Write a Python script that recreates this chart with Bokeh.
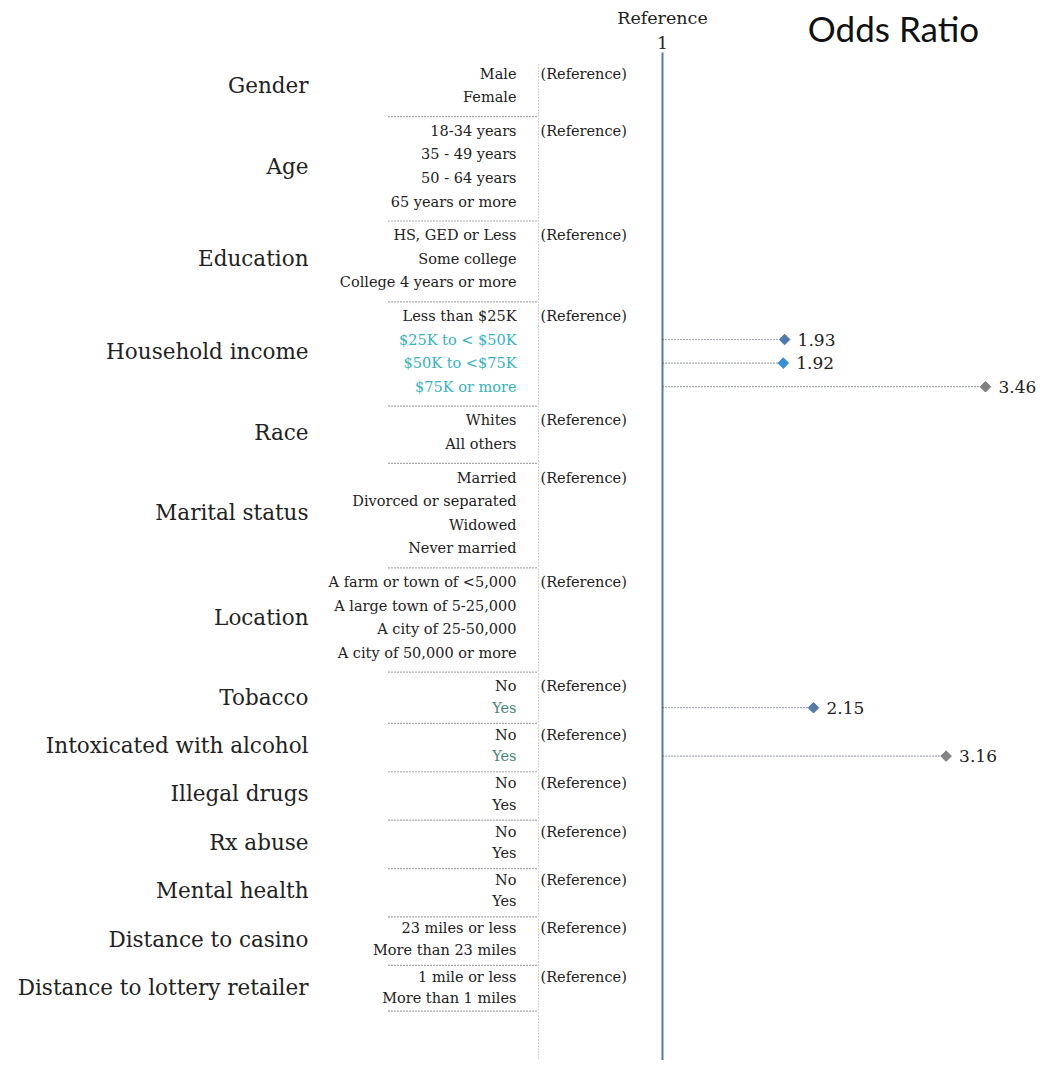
import math
from bokeh.plotting import figure
from bokeh.models import Range1d, ColumnDataSource
from bokeh.core.properties import value
from bokeh.embed import file_html
from bokeh.resources import INLINE

# ---------------- data ----------------
groups = ["Gender", "Age", "Education", "Household income", "Race",
          "Marital status", "Location", "Tobacco", "Intoxicated with alcohol",
          "Illegal drugs", "Rx abuse", "Mental health", "Distance to casino",
          "Distance to lottery retailer"]
levels = [
    ["Male", "Female"],
    ["18-34 years", "35 - 49 years", "50 - 64 years", "65 years or more"],
    ["HS, GED or Less", "Some college", "College 4 years or more"],
    ["Less than $25K", "$25K to < $50K", "$50K to <$75K", "$75K or more"],
    ["Whites", "All others"],
    ["Married", "Divorced or separated", "Widowed", "Never married"],
    ["A farm or town of <5,000", "A large town of 5-25,000",
     "A city of 25-50,000", "A city of 50,000 or more"],
    ["No", "Yes"], ["No", "Yes"], ["No", "Yes"], ["No", "Yes"], ["No", "Yes"],
    ["23 miles or less", "More than 23 miles"],
    ["1 mile or less", "More than 1 miles"],
]
reference_label = "(Reference)"
n_demographic = 7

# significant odds ratios
or_group = ["Household income", "Household income", "Household income",
            "Tobacco", "Intoxicated with alcohol"]
or_level = ["$25K to < $50K", "$50K to <$75K", "$75K or more", "Yes", "Yes"]
or_value = [1.93, 1.92, 3.46, 2.15, 3.16]
or_color = ["#4f78ad", "#3a8fdc", "#7f7f7f", "#5579a8", "#858585"]
label_color = {"Household income": "#33b3c0", "Tobacco": "#3f8a7c",
               "Intoxicated with alcohol": "#3f8a7c"}

# ---------------- layout ----------------
W, H = 1043, 1060
REF_PX = 662.0          # x of odds ratio = 1
MAX_PX = 985.0          # x of largest odds ratio
K = (MAX_PX - REF_PX) / (max(or_value) - 1.0)
X0 = 1.0 - REF_PX / K
X1 = X0 + W / K


def px(xpix):
    return X0 + xpix / K


SERIF = value("DejaVu Serif")

row_y, row_txt, row_grp = [], [], []
grp_y, sep_y = [], []
y = 73.0
for gi, (g, lv) in enumerate(zip(groups, levels)):
    demo = gi < n_demographic
    step = 23.6 if demo else 21.4
    if gi > 0:
        y += 33.6 if gi <= n_demographic else 27.0
    ys = []
    for li, l in enumerate(lv):
        if li > 0:
            y += step
        ys.append(y)
        row_y.append(y)
        row_txt.append(l)
        row_grp.append(g)
    grp_y.append(sum(ys) / len(ys))
    nxt_gap = 33.6 if gi < n_demographic else 27.0
    sep_y.append(y + (0.58 * nxt_gap if gi < len(groups) - 1 else 13))

first_rows = [row_y[row_grp.index(g)] for g in groups]

p = figure(width=W, height=H, x_range=Range1d(X0, X1), y_range=Range1d(H, 0),
           output_backend="svg", toolbar_location=None, min_border=0,
           background_fill_color="white", border_fill_color="white")
p.axis.visible = False
p.grid.visible = False
p.outline_line_color = None

# title
p.text(x=[px(893)], y=[27], text=["Odds Ratio"], text_font=value("Lato"),
       text_font_size="35px", text_align="center", text_baseline="middle",
       text_color="#111111")
# reference header
p.text(x=[1.0, 1.0], y=[17, 42], text=["Reference", "1"], text_font=SERIF,
       text_font_size="17.5px", text_align="center", text_baseline="middle",
       text_color="#222222")

# vertical separators
p.segment(x0=[px(538)], y0=[64], x1=[px(538)], y1=[H], line_color="#a8a8a8",
          line_width=1, line_dash="1 2")
p.segment(x0=[1.0], y0=[52], x1=[1.0], y1=[H], line_color="#5a7aa6",
          line_width=2)

# horizontal dotted separators
p.segment(x0=[px(388)] * len(sep_y), y0=sep_y, x1=[px(538)] * len(sep_y),
          y1=sep_y, line_color="#555555", line_width=1.2, line_dash="1 2")

# group labels
p.text(x=[px(308)] * len(groups), y=grp_y, text=groups, text_font=SERIF,
       text_font_size="21.5px", text_align="right", text_baseline="middle",
       text_color="#222222")

# level labels
colors = []
for g, t in zip(row_grp, row_txt):
    hit = any(g == og and t == ol for og, ol in zip(or_group, or_level))
    colors.append(label_color.get(g, "#222222") if hit else "#222222")
lsrc = ColumnDataSource(dict(x=[px(516)] * len(row_y), y=row_y, t=row_txt, c=colors))
p.text(x="x", y="y", text="t", text_color="c", source=lsrc, text_font=SERIF,
       text_font_size="14.5px", text_align="right", text_baseline="middle")

# (Reference) labels
p.text(x=[px(540)] * len(first_rows), y=first_rows,
       text=[reference_label] * len(first_rows), text_font=SERIF,
       text_font_size="14.5px", text_align="left", text_baseline="middle",
       text_color="#222222")

# odds ratio points
pts_y = []
for og, ol in zip(or_group, or_level):
    gi = groups.index(og)
    start = row_grp.index(og)
    li = levels[gi].index(ol)
    pts_y.append(row_y[start + li])
src = ColumnDataSource(dict(x=or_value, y=pts_y, c=or_color,
                            t=[f"{v:.2f}" for v in or_value],
                            x0=[1.0] * len(or_value)))
p.segment(x0="x0", y0="y", x1="x", y1="y", source=src, line_color="#4a5870",
          line_width=1.2, line_dash="1 2")
p.scatter(x="x", y="y", source=src, marker="square", size=7.5,
          angle=math.pi / 4, fill_color="c", line_color="c")
p.text(x="x", y="y", text="t", source=src, x_offset=13, text_font=SERIF,
       text_font_size="17px", text_align="left", text_baseline="middle",
       text_color="#222222")

open("out.html", "w").write(file_html(p, INLINE))
